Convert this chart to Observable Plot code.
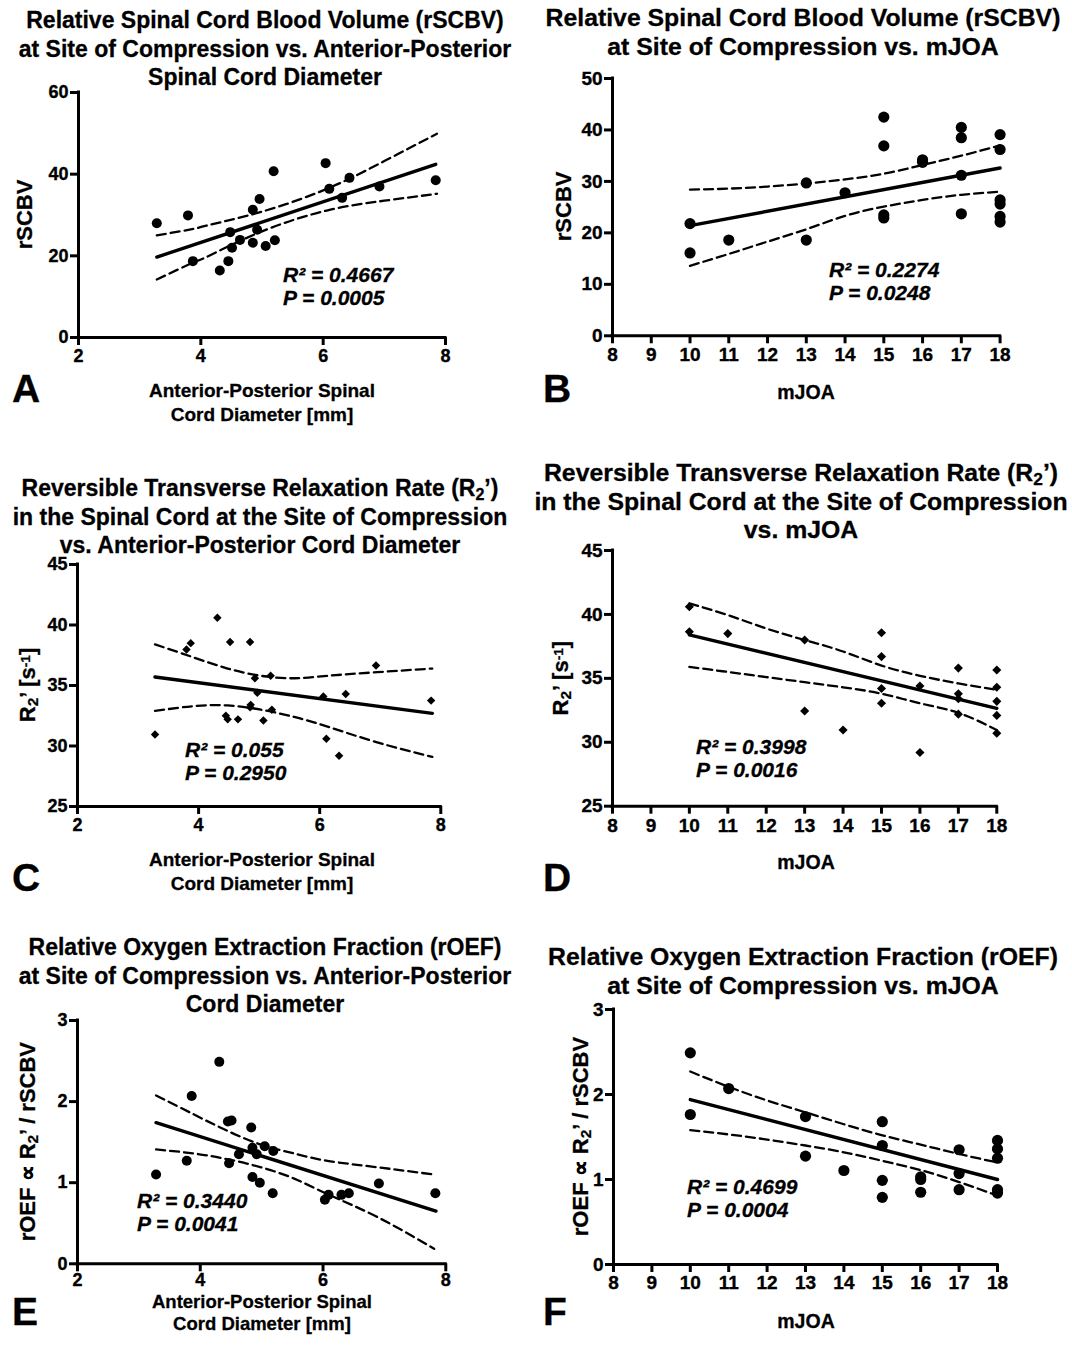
<!DOCTYPE html>
<html><head><meta charset="utf-8">
<script src="https://cdn.jsdelivr.net/npm/d3@7"></script>
<script src="https://cdn.jsdelivr.net/npm/@observablehq/plot@0.6"></script>
<style>
body{margin:0;background:#fff;}
#page{position:relative;width:1072px;height:1355px;background:#fff;overflow:hidden;font-family:"Liberation Sans",Arial,sans-serif;}
.panel{position:absolute;}
.panel text{stroke:#000;stroke-width:0.35px;}
#overlay{position:absolute;left:0;top:0;}
#overlay text{stroke:#000;stroke-width:0.3px;}
</style></head><body><div id="page"></div>
<script>
// ---------- Panel A: rSCBV vs AP diameter ----------
const aDiam = [3.28,3.79,3.87,4.31,4.45,4.48,4.51,4.64,4.85,4.85,4.92,4.96,5.06,5.21,5.19,6.04,6.10,6.31,6.43,6.92,7.84];
const aSCBV = [28.0,29.9,18.7,16.4,18.7,25.8,22.0,23.9,31.3,23.2,26.4,33.9,22.4,23.8,40.7,42.7,36.4,34.2,39.1,37.0,38.5];
const aFitX = [3.28,7.84], aFitY = [19.7,42.4];
const aCiX = [3.28,3.88,4.09,4.97,6.06,7.0,7.86];
const aUpY = [25.0,26.6,27.4,30.7,36.4,43.2,49.9];
const aLoY = [14.2,18.4,19.7,25.8,31.1,33.5,35.2];

// ---------- Panel B: rSCBV vs mJOA ----------
const bJOA  = [10,10,11,13,13,14,15,15,15,15,16,16,17,17,17,17,18,18,18,18,18,18];
const bSCBV = [21.8,16.1,18.6,29.7,18.6,27.8,42.5,36.9,23.5,22.9,34.2,33.7,40.5,38.5,31.2,23.7,39.1,36.2,26.4,25.6,23.2,22.1];
const bFitX = [10,18], bFitY = [21.4,32.6];
const bCiX = [10,11,12,13,14,15,16,17,18];
const bUpY = [28.4,28.6,29.0,29.6,30.4,31.5,33.2,35.0,37.0];
const bLoY = [13.6,15.9,18.3,20.7,23.3,25.1,26.4,27.4,28.0];

// ---------- Panel C: R2' vs AP diameter ----------
const cDiam = [3.28,3.80,3.87,4.31,4.45,4.48,4.52,4.65,4.85,4.86,4.85,4.93,4.97,5.07,5.19,5.21,6.06,6.11,6.32,6.43,6.93,7.84];
const cR2   = [30.95,37.97,38.5,40.6,32.5,32.2,38.6,32.2,38.6,33.4,33.2,35.6,34.4,32.1,35.8,33.0,34.1,30.6,29.2,34.3,36.65,33.75];
const cFitX = [3.28,7.86], cFitY = [35.7,32.7];
const cCiX = [3.28,3.93,4.48,5.03,5.58,6.13,6.95,7.86];
const cUpY = [38.4,37.3,36.4,35.8,35.6,35.8,36.1,36.4];
const cLoY = [32.9,33.3,33.35,33.0,32.4,31.6,30.3,29.1];

// ---------- Panel D: R2' vs mJOA ----------
const dJOA = [10,10,11,13,13,14,15,15,15,15,16,16,17,17,17,17,18,18,18,18,18];
const dR2  = [40.6,38.65,38.5,38.0,32.45,30.96,38.57,36.7,34.2,33.05,34.4,29.2,35.8,33.8,33.4,32.2,35.65,34.3,33.2,32.1,30.7];
const dFitX = [10,18], dFitY = [38.4,32.65];
const dCiX = [10,11,12,13,14,15,16,17,18];
const dUpY = [40.86,39.95,38.9,38.0,37.1,36.0,35.2,34.6,34.1];
const dLoY = [35.9,35.5,35.1,34.7,34.3,33.8,33.05,32.3,30.96];

// ---------- Panel E: rOEF vs AP diameter ----------
const eDiam = [3.28,3.78,3.86,4.31,4.45,4.51,4.47,4.63,4.83,4.85,4.85,4.92,4.97,5.05,5.19,5.18,6.03,6.09,6.30,6.42,6.91,7.83];
const eOEF  = [1.10,1.27,2.07,2.49,1.755,1.767,1.24,1.35,1.68,1.43,1.07,1.35,1.0,1.45,1.39,0.87,0.79,0.85,0.85,0.87,0.99,0.87];
const eFitX = [3.28,7.84], eFitY = [1.74,0.65];
const eCiX = [3.28,3.90,4.44,4.99,5.53,6.07,6.89,7.81];
const eUpY = [2.076,1.84,1.64,1.47,1.36,1.27,1.19,1.10];
const eLoY = [1.41,1.36,1.29,1.19,1.05,0.86,0.575,0.185];

// ---------- Panel F: rOEF vs mJOA ----------
const fJOA = [10,10,11,13,13,14,15,15,15,15,16,16,16,17,17,17,18,18,18,18,18];
const fOEF = [2.49,1.765,2.07,1.74,1.275,1.106,1.68,1.40,0.99,0.79,1.03,1.0,0.85,1.35,1.07,0.88,1.46,1.36,1.25,0.88,0.84];
const fFitX = [10,18], fFitY = [1.94,1.0];
const fCiX = [10,11,12,13,14,15,16,17,18];
const fUpY = [2.27,2.09,1.93,1.79,1.65,1.52,1.41,1.30,1.20];
const fLoY = [1.58,1.53,1.47,1.40,1.32,1.22,1.11,0.97,0.81];

// ---------- tick values ----------
const diamTicks = [2,4,6,8];
const joaTicks = [8,9,10,11,12,13,14,15,16,17,18];
const aYTicks = [0,20,40,60];
const bYTicks = [0,10,20,30,40,50];
const r2Ticks = [25,30,35,40,45];
const oefTicks = [0,1,2,3];

// ---------- texts ----------
const titleA = ["Relative Spinal Cord Blood Volume (rSCBV)","at Site of Compression vs. Anterior-Posterior","Spinal Cord Diameter"];
const titleB = ["Relative Spinal Cord Blood Volume (rSCBV)","at Site of Compression vs. mJOA"];
const r2Line = [["Reversible Transverse Relaxation Rate (R"],["2","sub"],["’)"]];
const titleC = [r2Line,"in the Spinal Cord at the Site of Compression","vs. Anterior-Posterior Cord Diameter"];
const titleD = [r2Line,"in the Spinal Cord at the Site of Compression","vs. mJOA"];
const titleE = ["Relative Oxygen Extraction Fraction (rOEF)","at Site of Compression vs. Anterior-Posterior","Cord Diameter"];
const titleF = ["Relative Oxygen Extraction Fraction (rOEF)","at Site of Compression vs. mJOA"];
const xLabDiam = ["Anterior-Posterior Spinal","Cord Diameter [mm]"];
const xLabJOA = ["mJOA"];
const yLabSCBV = [["rSCBV"]];
const yLabR2 = [["R"],["2","sub"],["’ [s"],["-1","sup"],["]"]];
const yLabOEF = [["rOEF ∝ R"],["2","sub"],["’ / rSCBV"]];
const statsA = ["R² = 0.4667","P = 0.0005"];
const statsB = ["R² = 0.2274","P = 0.0248"];
const statsC = ["R² = 0.055","P = 0.2950"];
const statsD = ["R² = 0.3998","P = 0.0016"];
const statsE = ["R² = 0.3440","P = 0.0041"];
const statsF = ["R² = 0.4699","P = 0.0004"];

const zip = (xs, ys) => xs.map((x, i) => ({x, y: ys[i]}));

const panels = [
  {letter:"A", xs:aDiam, ys:aSCBV, fitX:aFitX, fitY:aFitY, ciX:aCiX, upY:aUpY, loY:aLoY,
   xDomain:[2,8], yDomain:[0,60], xTicks:diamTicks, yTicks:aYTicks, sym:"circle", r:5,
   frame:{x0:78,x1:445,y0:92,y1:337}, tickFont:18, xpad:4,
   title:titleA, tcx:265, tby:28, tsize:23, xLab:xLabDiam, xcx:262, xby:397, xgap:24, xsize:19,
   yLab:yLabSCBV, ycx:24, stats:statsA, sx:283, sby:282, lx:12, lby:402},
  {letter:"B", xs:bJOA, ys:bSCBV, fitX:bFitX, fitY:bFitY, ciX:bCiX, upY:bUpY, loY:bLoY,
   xDomain:[8,18], yDomain:[0,50], xTicks:joaTicks, yTicks:bYTicks, sym:"circle", r:5.6,
   frame:{x0:611.7,x1:999.3,y0:77.7,y1:335}, tickFont:19, xpad:4,
   title:titleB, tcx:803, tby:26, tsize:24.8, xLab:xLabJOA, xcx:806, xby:399, xgap:24, xsize:19.5,
   yLab:yLabSCBV, ycx:563, stats:statsB, sx:829, sby:277, lx:543, lby:402},
  {letter:"C", xs:cDiam, ys:cR2, fitX:cFitX, fitY:cFitY, ciX:cCiX, upY:cUpY, loY:cLoY,
   xDomain:[2,8], yDomain:[25,45], xTicks:diamTicks, yTicks:r2Ticks, sym:"diamond2", r:3.8,
   frame:{x0:76.7,x1:440,y0:564,y1:806}, tickFont:18, xpad:4,
   title:titleC, tcx:260, tby:496, tsize:23, xLab:xLabDiam, xcx:262, xby:866, xgap:24, xsize:19,
   yLab:yLabR2, ycx:27, stats:statsC, sx:185, sby:757, lx:12, lby:891},
  {letter:"D", xs:dJOA, ys:dR2, fitX:dFitX, fitY:dFitY, ciX:dCiX, upY:dUpY, loY:dLoY,
   xDomain:[8,18], yDomain:[25,45], xTicks:joaTicks, yTicks:r2Ticks, sym:"diamond2", r:4.1,
   frame:{x0:611.7,x1:996,y0:550.3,y1:806}, tickFont:19, xpad:4,
   title:titleD, tcx:801, tby:481, tsize:24.8, xLab:xLabJOA, xcx:806, xby:869, xgap:24, xsize:19.5,
   yLab:yLabR2, ycx:560, stats:statsD, sx:696, sby:754, lx:543, lby:891},
  {letter:"E", xs:eDiam, ys:eOEF, fitX:eFitX, fitY:eFitY, ciX:eCiX, upY:eUpY, loY:eLoY,
   xDomain:[2,8], yDomain:[0,3], xTicks:diamTicks, yTicks:oefTicks, sym:"circle", r:5,
   frame:{x0:76.7,x1:445,y0:1020,y1:1263.3}, tickFont:18, xpad:1,
   title:titleE, tcx:265, tby:955, tsize:23, xLab:xLabDiam, xcx:262, xby:1308, xgap:22, xsize:18.5,
   yLab:yLabOEF, ycx:27, stats:statsE, sx:137, sby:1208, lx:12, lby:1325},
  {letter:"F", xs:fJOA, ys:fOEF, fitX:fFitX, fitY:fFitY, ciX:fCiX, upY:fUpY, loY:fLoY,
   xDomain:[8,18], yDomain:[0,3], xTicks:joaTicks, yTicks:oefTicks, sym:"circle", r:5.6,
   frame:{x0:612.7,x1:996.7,y0:1009,y1:1264}, tickFont:19, xpad:3,
   title:titleF, tcx:803, tby:965, tsize:24.8, xLab:xLabJOA, xcx:806, xby:1328, xgap:24, xsize:19.5,
   yLab:yLabOEF, ycx:580, stats:statsF, sx:687, sby:1194, lx:543, lby:1325}
];

const page = document.getElementById("page");
const FONT = "'Liberation Sans', Arial, sans-serif";

for (const p of panels) {
  const ml = 60, mr = 16, mt = 14, mb = 34;
  const w = p.frame.x1 - p.frame.x0 + ml + mr;
  const h = p.frame.y1 - p.frame.y0 + mt + mb;
  const chart = Plot.plot({
    width: w, height: h,
    marginLeft: ml, marginRight: mr, marginTop: mt, marginBottom: mb,
    x: {domain: p.xDomain},
    y: {domain: p.yDomain},
    style: {fontFamily: FONT, fontWeight: "bold", fontSize: p.tickFont + "px", color: "#000", background: "transparent", overflow: "visible"},
    marks: [
      Plot.axisX({ticks: p.xTicks, tickSize: 8, tickPadding: p.xpad, strokeWidth: 3, fontSize: p.tickFont, label: null, tickFormat: d => String(d)}),
      Plot.axisY({ticks: p.yTicks, tickSize: 8, tickPadding: 2, strokeWidth: 3, fontSize: p.tickFont, label: null, tickFormat: d => String(d)}),
      Plot.ruleX([p.xDomain[0]], {strokeWidth: 3, strokeLinecap: "square"}),
      Plot.ruleY([p.yDomain[0]], {strokeWidth: 3, strokeLinecap: "square"}),
      Plot.line(zip(p.ciX, p.upY), {x: "x", y: "y", curve: "natural", stroke: "#000", strokeWidth: 2.3, strokeDasharray: "9,5"}),
      Plot.line(zip(p.ciX, p.loY), {x: "x", y: "y", curve: "natural", stroke: "#000", strokeWidth: 2.3, strokeDasharray: "9,5"}),
      Plot.line(zip(p.fitX, p.fitY), {x: "x", y: "y", stroke: "#000", strokeWidth: 3.4}),
      Plot.dot(zip(p.xs, p.ys), {x: "x", y: "y", r: p.r, symbol: p.sym, fill: "#000", stroke: "none"})
    ]
  });
  chart.classList.add("panel");
  chart.style.left = (p.frame.x0 - ml) + "px";
  chart.style.top = (p.frame.y0 - mt) + "px";
  page.appendChild(chart);
}

// overlay for titles, axis labels, statistics and panel letters
const ov = d3.select(page).append("svg").attr("id", "overlay")
  .attr("width", 1072).attr("height", 1355)
  .style("font-family", FONT).style("font-weight", "bold");

function addParts(sel, parts) {
  for (const [s, kind] of parts) {
    const t = sel.append("tspan").text(s);
    if (kind === "sub") t.attr("baseline-shift", "-22%").attr("font-size", "70%");
    if (kind === "sup") t.attr("baseline-shift", "38%").attr("font-size", "62%");
  }
}
function line(x, y, content, size, anchor, italic) {
  const t = ov.append("text").attr("x", x).attr("y", y)
    .attr("font-size", size).attr("text-anchor", anchor).attr("fill", "#000");
  if (italic) t.attr("font-style", "italic");
  if (typeof content === "string") t.text(content); else addParts(t, content);
  return t;
}

for (const p of panels) {
  p.title.forEach((l, i) => line(p.tcx, p.tby + i * 28.5, l, p.tsize, "middle"));
  p.xLab.forEach((l, i) => line(p.xcx, p.xby + i * p.xgap, l, p.xsize, "middle"));
  const cy = (p.frame.y0 + p.frame.y1) / 2;
  const yt = ov.append("text").attr("transform", `translate(${p.ycx},${cy}) rotate(-90)`)
    .attr("text-anchor", "middle").attr("dy", "0.36em").attr("font-size", 22).attr("fill", "#000");
  addParts(yt, p.yLab);
  p.stats.forEach((l, i) => line(p.sx, p.sby + i * 22.5, l, 21, "start", true));
  line(p.lx, p.lby, p.letter, 39, "start");
}
</script></body></html>
